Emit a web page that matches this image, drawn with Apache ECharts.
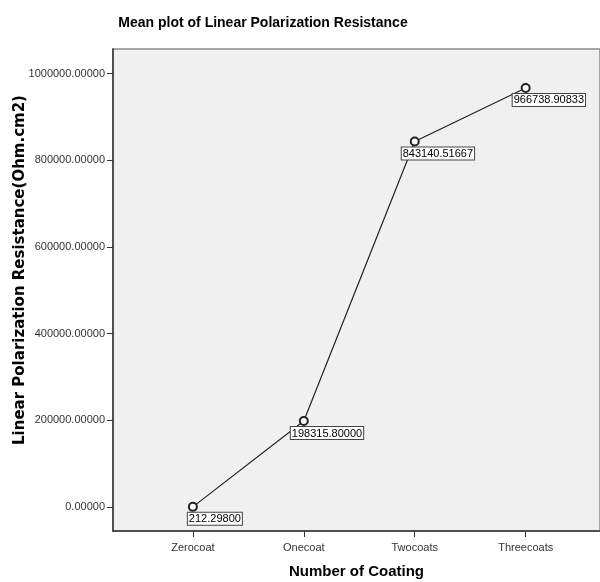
<!DOCTYPE html>
<html>
<head>
<meta charset="utf-8">
<script src="https://cdn.jsdelivr.net/npm/echarts@6/dist/echarts.min.js"></script>
<style>
  html, body { margin: 0; padding: 0; background: #fff; }
  #meanPlot { width: 600px; height: 582px; }
</style>
</head>
<body>
<div id="meanPlot"></div>
<script>
// data
var categories = ["Zerocoat", "Onecoat", "Twocoats", "Threecoats"];
var meanValues = [212.29800, 198315.80000, 843140.51667, 966738.90833];
var yTicks = [0, 200000, 400000, 600000, 800000, 1000000];

var chart = echarts.init(document.getElementById("meanPlot"));

var points = meanValues.map(function (v, i) {
  return {
    value: [i, v],
    label: { offset: i === 0 ? [-5, 0] : [-13, 0] }
  };
});

var option = {
  animation: false,
  title: {
    text: "Mean plot of Linear Polarization Resistance",
    left: 258,
    textAlign: "center",
    top: 11,
    textStyle: {
      fontFamily: "Liberation Sans, Arial",
      fontWeight: "bold",
      fontSize: 14,
      color: "#000"
    }
  },
  grid: {
    left: 113,
    right: 0,
    top: 49,
    bottom: 51,
    outerBoundsMode: "none",
    containLabel: false,
    show: true,
    backgroundColor: "#f0f0f0",
    borderColor: "#8a8a8a",
    borderWidth: 1.5
  },
  xAxis: {
    type: "value",
    min: -0.72,
    max: 3.67,
    name: "Number of Coating",
    nameLocation: "middle",
    nameGap: 33,
    nameMoveOverlap: false,
    nameTextStyle: {
      fontFamily: "Liberation Sans, Arial",
      fontWeight: "bold",
      fontSize: 15,
      color: "#000"
    },
    splitLine: { show: false },
    axisLine: { onZero: false, lineStyle: { color: "#333", width: 1.5 } },
    axisTick: {
      show: true,
      length: 6,
      customValues: [0, 1, 2, 3],
      lineStyle: { color: "#333" }
    },
    axisLabel: {
      customValues: [0, 1, 2, 3],
      formatter: function (v) { return categories[Math.round(v)]; },
      fontFamily: "Liberation Sans, Arial",
      fontSize: 11,
      color: "#333",
      margin: 11
    }
  },
  yAxis: {
    type: "value",
    min: -55500,
    max: 1056600,
    name: "Linear Polarization Resistance(Ohm.cm2)",
    nameLocation: "middle",
    nameGap: 85,
    nameMoveOverlap: false,
    nameTextStyle: {
      fontFamily: "DejaVu Sans",
      fontWeight: "bold",
      fontSize: 15,
      color: "#000",
      padding: [0, 0, 0, 40]
    },
    splitLine: { show: false },
    axisLine: { show: true, onZero: false, lineStyle: { color: "#333", width: 1.5 } },
    axisTick: {
      show: true,
      length: 6,
      customValues: yTicks,
      lineStyle: { color: "#333" }
    },
    axisLabel: {
      customValues: yTicks,
      formatter: function (v) { return v.toFixed(5); },
      fontFamily: "Liberation Sans, Arial",
      fontSize: 11,
      color: "#333",
      margin: 8
    }
  },
  series: [
    {
      type: "line",
      data: points,
      symbol: "emptyCircle",
      symbolSize: 8,
      itemStyle: { color: "#222", borderColor: "#222", borderWidth: 1.2 },
      lineStyle: { color: "#222", width: 1.2 },
      label: {
        show: true,
        position: "bottom",
        align: "left",
        distance: 1,
        formatter: function (p) { return p.value[1].toFixed(5); },
        fontFamily: "Liberation Sans, Arial",
        fontSize: 11,
        color: "#000",
        backgroundColor: "#fff",
        borderColor: "#444",
        borderWidth: 1,
        padding: [1, 1, 0, 1]
      }
    }
  ]
};

chart.setOption(option);
</script>
</body>
</html>
